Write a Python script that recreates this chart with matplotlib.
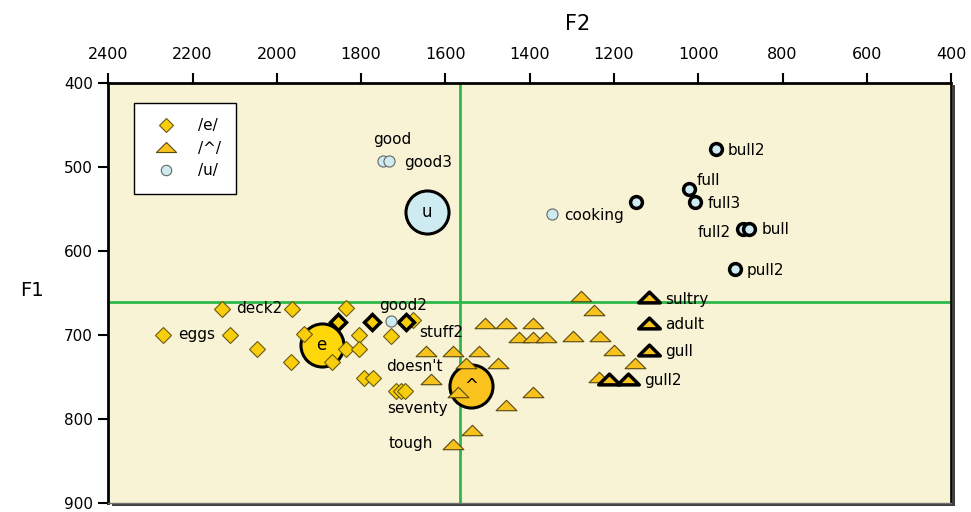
import numpy as np
import matplotlib.pyplot as plt
from matplotlib.path import Path
from matplotlib.lines import Line2D
import matplotlib.patheffects as pe

# /e/ tokens (F2, F1) in Hz
e_f2 = [2271, 2129, 1965, 2111, 2048, 1966, 1935, 1836, 1806, 1728,
        1836, 1804, 1868, 1792, 1771, 1717, 1705, 1695, 1678]
e_f1 = [700, 669, 669, 700, 717, 732, 699, 668, 700, 701,
        717, 717, 732, 751, 751, 767, 767, 767, 682]
e_bold_f2 = [1855, 1773, 1693]
e_bold_f1 = [685, 685, 685]

# /^/ tokens
a_f2 = [1646, 1583, 1520, 1506, 1456, 1393, 1425, 1393, 1361, 1297,
        1233, 1551, 1474, 1633, 1571, 1393, 1456, 1537, 1583, 1278,
        1247, 1201, 1150, 1235]
a_f1 = [719, 719, 719, 686, 686, 686, 702, 702, 702, 701,
        701, 734, 734, 752, 768, 768, 783, 813, 830, 654,
        670, 718, 733, 750]
a_bold_f2 = [1116, 1116, 1116, 1211, 1166]
a_bold_f1 = [655, 686, 718, 752, 752]

# /u/ tokens
u_f2 = [1749, 1733, 1729, 1346]
u_f1 = [493, 493, 684, 556]
u_bold_f2 = [958, 1021, 1007, 1148, 893, 879, 913]
u_bold_f1 = [479, 526, 542, 542, 574, 574, 622]

# vowel means
mean_names = ["e", "^", "u"]
mean_f2 = [1894, 1539, 1643]
mean_f1 = [712, 761, 554]

# grand means
grand_f2 = 1565
grand_f1 = 661

# word labels: (word, F2, F1, dx px, dy px, ha)
words = [
    ("eggs", 2271, 700, 15, 0, "left"),
    ("deck2", 2129, 669, 14, 0, "left"),
    ("good", 1749, 493, -9, 21, "left"),
    ("good3", 1733, 493, 15, -2, "left"),
    ("good2", 1729, 684, -12, 16, "left"),
    ("stuff2", 1646, 719, -7, 18, "left"),
    ("doesn't", 1633, 752, -45, 12, "left"),
    ("seventy", 1705, 767, -14, -17, "left"),
    ("tough", 1583, 830, -20, 1, "right"),
    ("cooking", 1346, 556, 12, -2, "left"),
    ("bull2", 958, 479, 12, -1, "left"),
    ("full", 1021, 526, 7, 8, "left"),
    ("full3", 1007, 542, 12, -1, "left"),
    ("full2", 893, 574, -13, -4, "right"),
    ("bull", 879, 574, 12, -1, "left"),
    ("pull2", 913, 622, 12, -1, "left"),
    ("sultry", 1116, 655, 16, -2, "left"),
    ("adult", 1116, 686, 16, -1, "left"),
    ("gull", 1116, 718, 16, -2, "left"),
    ("gull2", 1166, 752, 16, -2, "left"),
]

yellow = "#F7CD0C"
orange = "#F7C11E"
blue = "#CDEBF0"
green = "#2DB84A"
bg = "#F8F3D5"

# flat, wide triangle
tri = Path([(-1, -0.5), (1, -0.5), (0, 0.5), (-1, -0.5)],
           [Path.MOVETO, Path.LINETO, Path.LINETO, Path.CLOSEPOLY])

fig = plt.figure(figsize=(9.71, 5.12), dpi=100)
ax = fig.add_axes([0.1115, 0.0176, 0.868, 0.8209])
ax.set_facecolor(bg)
ax.patch.set_path_effects([pe.withSimplePatchShadow(offset=(2.5, -2), shadow_rgbFace="k", alpha=0.75)])

ax.set_xlim(2400, 400)
ax.set_ylim(900, 400)

ax.axvline(grand_f2, color=green, lw=2, zorder=1)
ax.axhline(grand_f1, color=green, lw=2, zorder=1)

# vowel means
mean_cols = {"e": "#FFD60A", "^": "#F9C21C", "u": blue}
for n, x, y in zip(mean_names, mean_f2, mean_f1):
    ax.plot(x, y, "o", ms=31, mfc=mean_cols[n], mec="k", mew=2.2, zorder=2)
    ax.text(x, y, n, ha="center", va="center", fontsize=12, zorder=3)

ax.plot(e_f2, e_f1, "D", ls="none", ms=8.2, mfc=yellow, mec="#6a5a10", mew=0.8, zorder=4)
ax.plot(e_bold_f2, e_bold_f1, "D", ls="none", ms=8.5, mfc=yellow, mec="k", mew=2.5, zorder=4)
ax.plot(a_f2, a_f1, marker=tri, ls="none", ms=15, mfc=orange, mec="#5a4a10", mew=0.8, zorder=4)
ax.plot(a_bold_f2, a_bold_f1, marker=tri, ls="none", ms=15.5, mfc=orange, mec="k", mew=2.5, zorder=4)
ax.plot(u_f2, u_f1, "o", ls="none", ms=8, mfc=blue, mec="#666666", mew=0.8, zorder=4)
ax.plot(u_bold_f2, u_bold_f1, "o", ls="none", ms=8.5, mfc=blue, mec="k", mew=2.5, zorder=4)

for w, x, y, dx, dy, ha in words:
    ax.annotate(w, (x, y), xytext=(dx * 0.72, dy * 0.72), textcoords="offset points",
                ha=ha, va="center", fontsize=11, zorder=5)

# axes frame
ax.xaxis.tick_top()
ax.xaxis.set_label_position("top")
ax.set_xticks(np.arange(2400, 399, -200))
ax.set_yticks(np.arange(400, 901, 100))
ax.tick_params(axis="x", direction="out", length=7, width=1.5, labelsize=11.5, pad=8)
ax.tick_params(axis="y", direction="out", length=7, width=1.5, labelsize=11, pad=4)
for s in ["top", "left"]:
    ax.spines[s].set_linewidth(2)
ax.spines["right"].set_linewidth(1.2)
ax.spines["bottom"].set_linewidth(1)
ax.spines["bottom"].set_color("0.45")

ax.set_xlabel("F2", fontsize=15)
ax.xaxis.set_label_coords(0.557, 1.125)
ax.set_ylabel("F1", fontsize=14, rotation=0, va="center")
ax.yaxis.set_label_coords(-0.09, 0.505)

handles = [
    Line2D([], [], marker="D", ls="none", ms=7.5, mfc=yellow, mec="#6a5a10", mew=0.8),
    Line2D([], [], marker=tri, ls="none", ms=14.5, mfc=orange, mec="#5a4a10", mew=0.8),
    Line2D([], [], marker="o", ls="none", ms=7.5, mfc=blue, mec="#666666", mew=0.8),
]
leg = ax.legend(handles, ["/e/", "/^/", "/u/"], loc="upper left", bbox_to_anchor=(0.03, 0.952),
                borderaxespad=0, fontsize=11, frameon=True, fancybox=False, edgecolor="k",
                framealpha=1, borderpad=1.0, labelspacing=0.5, handlelength=2.2,
                handletextpad=1.0)
leg.get_frame().set_linewidth(1)

fig.savefig("out.png", dpi=100)
